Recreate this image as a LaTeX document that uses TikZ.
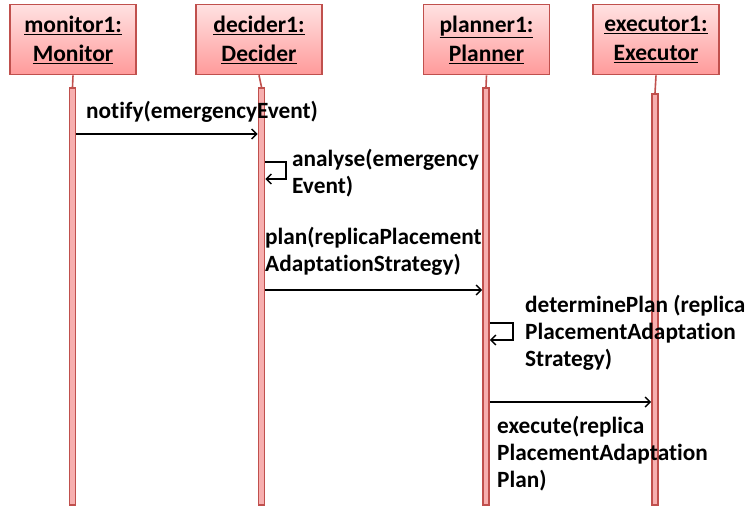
\documentclass[tikz,border=0pt]{standalone}
\usepackage{fontspec}
\setmainfont{Carlito}[Ligatures={NoCommon,NoRequired,NoContextual},RawFeature={-liga;-clig;-calt;-dlig}]
\usetikzlibrary{arrows.meta}
\definecolor{edge}{HTML}{C0504D}
\definecolor{boxtop}{HTML}{FFE2E2}
\definecolor{boxbot}{HTML}{FF9A9A}
\definecolor{barfill}{HTML}{F7AFAF}
\tikzset{
  obj/.style={draw=edge, line width=1.6pt, top color=boxtop, bottom color=boxbot,
    minimum width=126pt, minimum height=70pt, inner sep=0pt, align=center,
    font=\fontsize{23.5}{29}\selectfont\bfseries},
  bar/.style={draw=edge, line width=1.6pt, fill=barfill, minimum width=6pt, inner sep=0pt},
  stub/.style={draw=edge, line width=1.6pt},
  msg/.style={draw=black, line width=1.4pt, -{Straight Barb[length=5pt,width=10pt]}},
  lbl/.style={inner sep=0pt, align=left, anchor=base west,
    font=\fontsize{23.3}{27}\selectfont\bfseries}
}
\begin{document}
\begin{tikzpicture}[x=1pt,y=-1pt]
\useasboundingbox (0,0) rectangle (751,508);
% objects
\node[obj] (mon) at (73,39.5) {\underline{monitor1:}\\\underline{Monitor}};
\node[obj] (dec) at (259,39.5) {\underline{decider1:}\\\underline{Decider}};
\node[obj] (pla) at (486.5,39.5) {\underline{planner1:}\\\underline{Planner}};
\node[obj] (exe) at (656,39.5) {\underline{executor1:}\\\underline{Executor}};
% activation bars
\node[bar, minimum height=417pt, anchor=north] (mbar) at (72.5,87) {};
\node[bar, minimum height=417pt, anchor=north] (dbar) at (261.5,87) {};
\node[bar, minimum height=417pt, anchor=north] (pbar) at (486,87) {};
\node[bar, minimum height=411pt, anchor=north] (ebar) at (655,93) {};
% lifeline stubs
\draw[stub] (mon.south) -- (mbar.north);
\draw[stub] (dec.south) -- (dbar.north);
\draw[stub] (pla.south) -- (pbar.north);
\draw[stub] (exe.south) -- (ebar.north);
% messages
\draw[msg] (mbar.east |- 0,134) -- (dbar.west |- 0,134);
\node[lbl] (l1) at (86,118) {notify(emergencyEvent)};
\coordinate (a1) at (286,162);
\coordinate (a2) at (286,179);
\draw[msg] (dbar.east |- a1) -- (a1) -- (a2) -- (dbar.east |- a2);
\node[lbl] (l2) at (292,193) {analyse(emergency\\Event)};
\draw[msg] (dbar.east |- 0,290) -- (pbar.west |- 0,290);
\node[lbl] (l3) at (265,271) {plan(replicaPlacement\\AdaptationStrategy)};
\coordinate (b1) at (513,323);
\coordinate (b2) at (513,340);
\draw[msg] (pbar.east |- b1) -- (b1) -- (b2) -- (pbar.east |- b2);
\node[lbl] (l4) at (525,366) {determinePlan (replica\\PlacementAdaptation\\Strategy)};
\draw[msg] (pbar.east |- 0,402) -- (ebar.west |- 0,402);
\node[lbl] (l5) at (497,487) {execute(replica\\PlacementAdaptation\\Plan)};
\end{tikzpicture}
\end{document}
